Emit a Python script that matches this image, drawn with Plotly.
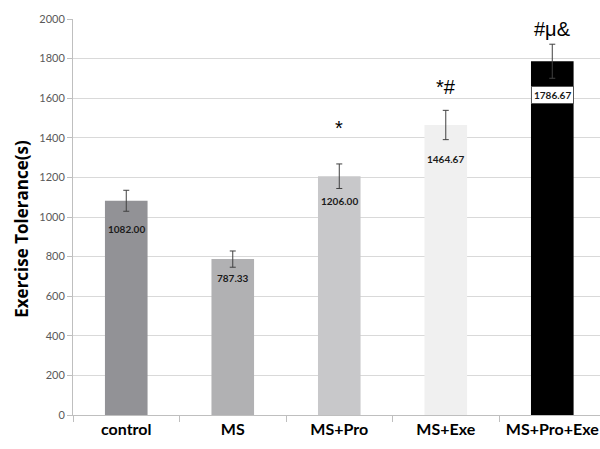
import plotly.graph_objects as go

# Exercise tolerance per group (mean ± error, seconds)
groups = ["control", "MS", "MS+Pro", "MS+Exe", "MS+Pro+Exe"]
means = [1082.00, 787.33, 1206.00, 1464.67, 1786.67]
errors = [53, 41, 62, 74, 86]
sig_marks = ["", "", "*", "*#", "#μ&"]
y_title = "Exercise Tolerance(s)"

bar_colors = ["#929296", "#b1b1b3", "#c8c8ca", "#f0f0f0", "#000000"]
value_label_shift = [-28, -19, -25, -34, -34]   # px below bar top
sig_label_shift = [0, 0, 36, 23, 15]            # px above error cap

FONT = "Lato"

fig = go.Figure()
fig.add_trace(go.Bar(
    x=groups,
    y=means,
    width=0.4,
    marker=dict(color=bar_colors, line=dict(width=0)),
    error_y=dict(type="data", array=errors, visible=True,
                 color="#404040", thickness=1, width=3),
    hoverinfo="skip",
))

annotations = []
for i, (g, m, e) in enumerate(zip(groups, means, errors)):
    boxed = bar_colors[i] == "#000000"
    annotations.append(dict(
        x=g, y=m, xref="x", yref="y",
        text=f"<b>{m:.2f}</b>",
        showarrow=False, yanchor="middle",
        yshift=value_label_shift[i],
        font=dict(family=FONT, size=10, color="#1a1a1a"),
        bgcolor="white" if boxed else "rgba(0,0,0,0)",
        bordercolor="#555555" if boxed else "rgba(0,0,0,0)",
        borderwidth=1 if boxed else 0,
        borderpad=2,
    ))
    if sig_marks[i]:
        annotations.append(dict(
            x=g, y=m + e, xref="x", yref="y",
            text=sig_marks[i],
            showarrow=False, yanchor="middle",
            yshift=sig_label_shift[i],
            font=dict(family="Liberation Sans", size=20, color="#000000"),
        ))

# vertical axis title, set slightly below the plot's middle
annotations.append(dict(
    x=-0.097, y=0.47, xref="paper", yref="paper",
    text=f"<b>{y_title}</b>", textangle=-90,
    showarrow=False, xanchor="center", yanchor="middle",
    font=dict(family="Open Sans", size=17, color="#000000"),
))

fig.update_layout(
    width=600, height=449,
    margin=dict(l=73, r=0, t=19, b=34, autoexpand=False),
    paper_bgcolor="white",
    plot_bgcolor="white",
    showlegend=False,
    annotations=annotations,
    xaxis=dict(
        type="category",
        range=[-0.5, 4.448],
        tickson="boundaries",
        ticks="outside", ticklen=6, tickcolor="#bfbfbf",
        showline=True, linecolor="#bfbfbf", linewidth=1,
        showgrid=False,
        tickfont=dict(family=FONT, size=16, color="#000000", weight="bold"),
        automargin=False,
    ),
    yaxis=dict(
        range=[0, 2000],
        tickmode="linear", tick0=0, dtick=200,
        ticks="outside", ticklen=5, tickcolor="#bfbfbf",
        showline=True, linecolor="#bfbfbf", linewidth=1,
        showgrid=True, gridcolor="#d9d9d9", gridwidth=1,
        zeroline=False,
        tickfont=dict(family=FONT, size=11, color="#595959"),
        automargin=False,
    ),
)

fig.write_html("out.html")
